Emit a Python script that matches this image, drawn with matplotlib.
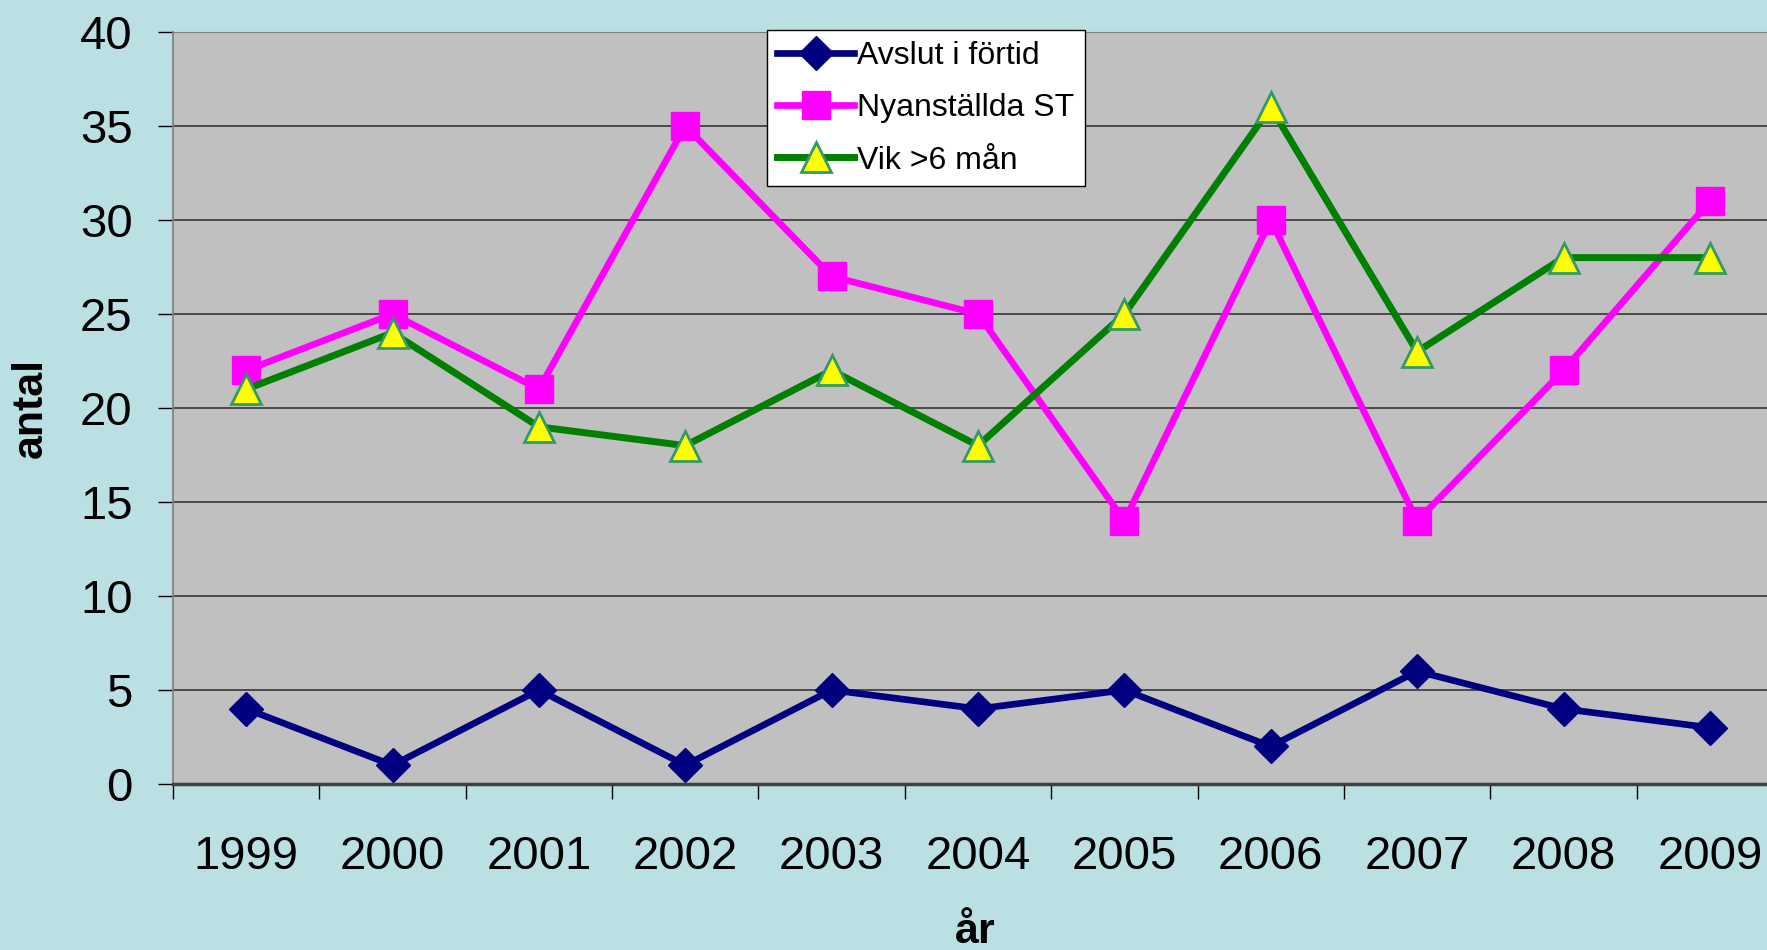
import matplotlib.pyplot as plt

plt.rcParams['font.family'] = ['Liberation Sans', 'DejaVu Sans']

# Data
years = ['1999', '2000', '2001', '2002', '2003', '2004', '2005', '2006', '2007', '2008', '2009']
avslut = [4, 1, 5, 1, 5, 4, 5, 2, 6, 4, 3]
nyanstallda = [22, 25, 21, 35, 27, 25, 14, 30, 14, 22, 31]
vik = [21, 24, 19, 18, 22, 18, 25, 36, 23, 28, 28]

bg = '#BBE0E3'
fig = plt.figure(figsize=(17.67, 9.5), dpi=100, facecolor=bg)
ax = fig.add_axes([0.0979, 0.1747, 0.9112, 0.7916])
ax.set_facecolor('#C0C0C0')

x = list(range(len(years)))
ax.plot(x, avslut, color='#000080', lw=4.8, marker='D', ms=17, mfc='#000080', mec='#000080',
        label='Avslut i förtid', zorder=3)
ax.plot(x, nyanstallda, color='#FF00FF', lw=4.8, marker='s', ms=20, mfc='#FF00FF', mec='#FF00FF',
        label='Nyanställda ST', zorder=3)
ax.plot(x, vik, color='#008000', lw=5, marker='^', ms=21, mfc='#FFFF00', mec='#339966', mew=2,
        label='Vik >6 mån', zorder=4)

ax.set_xlim(-0.5, len(years) - 0.5)
ax.set_ylim(0, 40)
ax.set_yticks(range(0, 41, 5))
ax.tick_params(axis='y', labelsize=34, length=11, width=1, pad=18, color='black')
ax.set_xticks([i - 0.5 for i in range(len(years) + 1)])
ax.set_xticklabels([])
ax.tick_params(axis='x', which='major', length=11, width=1, color='black')
ax.set_xticks(x, minor=True)
ax.set_xticklabels(years, minor=True)
ax.tick_params(axis='x', which='minor', length=0, labelsize=34, pad=37)

for v in range(5, 41, 5):
    ax.axhline(v, color='#404040', lw=1.3, zorder=1)

ax.spines['right'].set_visible(False)
ax.spines['top'].set_color('#808080')
ax.spines['left'].set_color('#808080')
ax.spines['left'].set_linewidth(1.3)
ax.spines['bottom'].set_color('#404040')
ax.spines['bottom'].set_linewidth(2.5)

fig.text(0.0175, 0.570, 'antal', rotation=90, fontsize=31, fontweight='bold', ha='center', va='center')
fig.text(0.552, 0.040, 'år', fontsize=31, fontweight='bold', ha='center', va='top')

leg = fig.legend(loc='upper left', bbox_to_anchor=(0.434, 0.968), fontsize=23, frameon=True,
                 fancybox=False, edgecolor='black', facecolor='white', framealpha=1,
                 handlelength=2.4, handletextpad=0.1, labelspacing=0.7, borderpad=0.33,
                 borderaxespad=0)
leg.get_frame().set_linewidth(1)

fig.savefig('out.png', dpi=100, facecolor=bg)
